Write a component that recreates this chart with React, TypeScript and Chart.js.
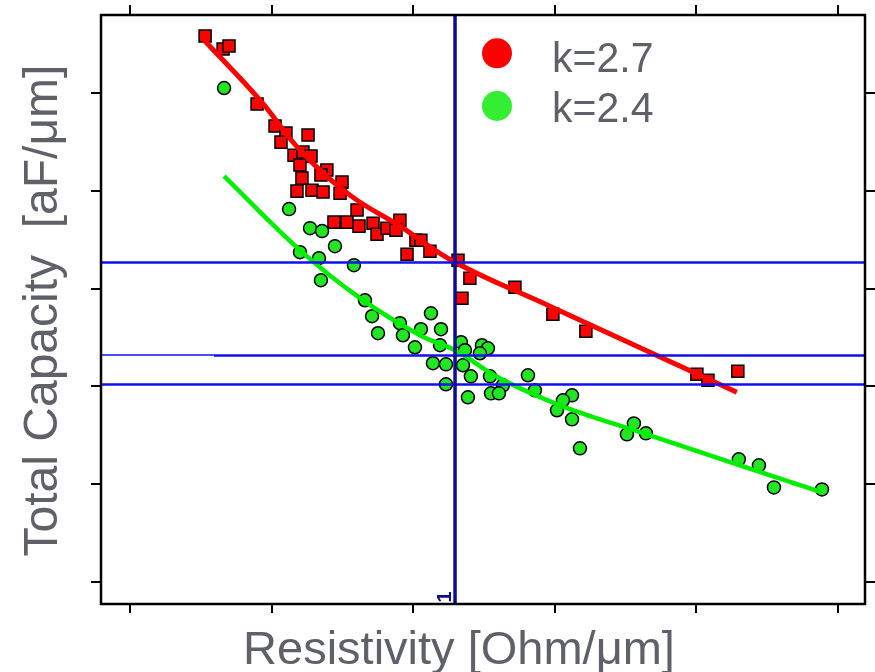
import React, { useEffect, useRef } from "react";
import { Chart, registerables } from "chart.js";

Chart.register(...registerables);

// Tick positions (axes carry no tick labels)
const xTicks = [100, 200, 300, 400, 500, 600];
const yTicks = [100, 200, 300, 400, 500, 600];

// Series k=2.7 (red squares)
const redX = [153.0, 165.7, 169.9, 189.7, 202.4, 210.1, 206.6, 225.7, 215.8, 222.1, 227.8, 220.0, 239.0, 234.8, 221.4, 249.7, 217.9, 228.5, 236.3, 248.3, 260.3, 244.0, 253.2, 261.7, 271.6, 274.4, 281.4, 290.6, 287.8, 301.9, 305.4, 295.6, 311.8, 331.6, 340.0, 334.4, 371.8, 398.6, 421.9, 500.3, 508.1, 529.2];
const redY = [658.3, 645.0, 648.1, 588.7, 566.2, 559.0, 549.8, 557.0, 536.5, 539.6, 535.5, 526.3, 521.2, 516.1, 513.0, 508.9, 499.7, 500.7, 498.7, 497.6, 480.3, 468.0, 468.0, 463.9, 466.9, 455.7, 461.8, 470.0, 459.8, 449.5, 449.5, 435.2, 438.3, 429.1, 410.7, 390.2, 401.4, 373.8, 356.4, 312.4, 306.3, 315.5];

// Series k=2.4 (green circles)
const greenX = [166.4, 212.3, 227.1, 235.6, 220.0, 244.7, 233.4, 258.1, 234.8, 265.9, 270.9, 275.1, 312.5, 290.6, 305.4, 319.6, 292.7, 301.2, 318.9, 333.7, 336.5, 348.5, 352.7, 347.1, 313.9, 323.1, 335.1, 340.7, 354.2, 323.1, 363.3, 381.0, 385.9, 338.6, 354.9, 360.5, 401.5, 412.1, 405.7, 412.1, 417.7, 450.9, 455.8, 464.3, 529.9, 544.1, 554.7, 588.6];
const greenY = [605.1, 481.3, 461.8, 458.8, 437.3, 443.4, 431.1, 424.0, 408.6, 388.1, 371.8, 354.4, 374.8, 364.6, 358.5, 358.5, 352.3, 340.0, 342.1, 345.2, 337.0, 342.1, 339.0, 333.9, 323.7, 322.6, 321.6, 310.3, 310.3, 302.2, 301.1, 311.4, 296.0, 288.9, 292.9, 292.9, 275.6, 290.9, 285.8, 266.3, 236.7, 251.0, 262.2, 252.0, 225.4, 219.3, 196.7, 194.7];

// Fitted trend curves
const redFitX = [152.2, 191.8, 220.0, 255.3, 290.6, 329.5, 396.5, 467.1, 528.5];
const redFitY = [654.2, 592.8, 541.7, 495.6, 463.9, 427.0, 382.0, 334.9, 294.0];
const greenFitX = [166.4, 220.0, 262.4, 304.7, 329.5, 361.2, 403.6, 467.1, 530.7, 588.6];
const greenFitY = [515.0, 439.3, 390.2, 352.3, 337.0, 308.3, 280.7, 249.9, 219.3, 191.6];

// Reference lines
const hRefs = [427.0, 331.8, 302.2];
const vRef = 329.5;

const seriesLabels = ["k=2.7", "k=2.4"];
const xTitle = "Resistivity [Ohm/\u03bcm]";
const yTitle = "Total Capacity  [aF/\u03bcm]";

const toPts = (xs: number[], ys: number[]) => xs.map((x, i) => ({ x, y: ys[i] }));

const FONT = "'Liberation Sans', Arial, sans-serif";
const GRAY = "#5f6168";

const decorPlugin = {
  id: "decor",
  afterDatasetsDraw(chart: any) {
    const { ctx, chartArea: a, scales } = chart;
    const xs = scales.x, ys = scales.y;
    ctx.save();
    ctx.strokeStyle = "#1010f0";
    hRefs.forEach((v, i) => {
      const py = Math.round(ys.getPixelForValue(v)) + 0.5;
      if (i === 1) {
        ctx.lineWidth = 1.5;
        ctx.beginPath();
        ctx.moveTo(a.left, py - 0.5);
        ctx.lineTo(a.left + 113, py - 0.5);
        ctx.stroke();
        ctx.lineWidth = 2.5;
        ctx.beginPath();
        ctx.moveTo(a.left + 113, py);
        ctx.lineTo(a.right, py);
        ctx.stroke();
      } else {
        ctx.lineWidth = 2.5;
        ctx.beginPath();
        ctx.moveTo(a.left, py);
        ctx.lineTo(a.right, py);
        ctx.stroke();
      }
    });
    const px = xs.getPixelForValue(vRef);
    ctx.strokeStyle = "#0b0b95";
    ctx.lineWidth = 3.5;
    ctx.beginPath();
    ctx.moveTo(px, a.top);
    ctx.lineTo(px, a.bottom);
    ctx.stroke();
    // small rotated "1" near the bottom of the vertical line
    ctx.fillStyle = "#0b0b95";
    ctx.font = "bold 20px " + FONT;
    ctx.translate(px - 10, a.bottom - 7);
    ctx.rotate(-Math.PI / 2);
    ctx.textAlign = "center";
    ctx.textBaseline = "middle";
    ctx.fillText("1", 0, 0);
    ctx.restore();
  },
  afterDraw(chart: any) {
    const { ctx, chartArea: a, scales } = chart;
    const xs = scales.x, ys = scales.y;
    ctx.save();
    // frame
    ctx.strokeStyle = "#000";
    ctx.lineWidth = 2.5;
    ctx.strokeRect(a.left, a.top, a.right - a.left, a.bottom - a.top);
    ctx.lineWidth = 2;
    ctx.beginPath();
    xTicks.forEach((v) => {
      const p = Math.round(xs.getPixelForValue(v));
      ctx.moveTo(p, a.top);
      ctx.lineTo(p, a.top - 10);
      ctx.moveTo(p, a.bottom);
      ctx.lineTo(p, a.bottom + 9);
    });
    yTicks.forEach((v) => {
      const p = Math.round(ys.getPixelForValue(v));
      ctx.moveTo(a.left, p);
      ctx.lineTo(a.left - 10, p);
      ctx.moveTo(a.right, p);
      ctx.lineTo(a.right + 10, p);
    });
    ctx.stroke();

    // axis titles
    ctx.fillStyle = GRAY;
    ctx.textAlign = "center";
    ctx.textBaseline = "alphabetic";
    ctx.save();
    ctx.font = "47px " + FONT;
    ctx.translate(459, 663.5);
    ctx.fillText(xTitle, 0, 0);
    ctx.restore();
    ctx.save();
    ctx.font = "48px " + FONT;
    ctx.translate(56.5, 310.5);
    ctx.rotate(-Math.PI / 2);
    ctx.fillText(yTitle, 0, 0);
    ctx.restore();

    // legend
    const colors = ["#ff0000", "#33ee33"];
    const ly = [53.3, 106];
    const lb = [71.7, 122];
    ctx.font = "41px " + FONT;
    ctx.textAlign = "left";
    seriesLabels.forEach((lab, i) => {
      ctx.fillStyle = colors[i];
      ctx.beginPath();
      ctx.arc(497, ly[i], 15, 0, Math.PI * 2);
      ctx.fill();
      ctx.fillStyle = GRAY;
      ctx.save();
      ctx.translate(552, lb[i]);
      ctx.scale(1, 1.05);
      ctx.fillText(lab, 0, 0);
      ctx.restore();
    });
    ctx.restore();
  },
};

export default function App() {
  const ref = useRef<HTMLCanvasElement>(null);
  useEffect(() => {
    document.body.style.margin = "0";
    const chart = new Chart(ref.current as HTMLCanvasElement, {
      type: "scatter",
      data: {
        datasets: [
          {
            type: "line",
            label: seriesLabels[0] + " fit",
            data: toPts(redFitX, redFitY),
            borderColor: "#ff0000",
            borderWidth: 5,
            pointRadius: 0,
            tension: 0.4,
            fill: false,
          },
          {
            type: "line",
            label: seriesLabels[1] + " fit",
            data: toPts(greenFitX, greenFitY),
            borderColor: "#00ee00",
            borderWidth: 4.5,
            pointRadius: 0,
            tension: 0.4,
            fill: false,
          },
          {
            label: seriesLabels[0],
            data: toPts(redX, redY),
            pointStyle: "rect",
            pointRadius: 8.5,
            backgroundColor: "#ff0000",
            borderColor: "#000000",
            borderWidth: 1.5,
          },
          {
            label: seriesLabels[1],
            data: toPts(greenX, greenY),
            pointStyle: "circle",
            pointRadius: 6.5,
            backgroundColor: "#22e622",
            borderColor: "#000000",
            borderWidth: 1.5,
          },
        ],
      },
      options: {
        responsive: false,
        animation: false,
        devicePixelRatio: 1,
        layout: { padding: { left: 101, top: 15, right: 10, bottom: 68 } },
        plugins: { legend: { display: false }, tooltip: { enabled: false } },
        scales: {
          x: { type: "linear", min: 79.5, max: 619, display: false },
          y: { type: "linear", min: 77.5, max: 679.8, display: false },
        },
      },
      plugins: [decorPlugin],
    });
    return () => chart.destroy();
  }, []);
  return (
    <div style={{ position: "fixed", left: 0, top: 0, width: 875, height: 672, background: "#fff" }}>
      <canvas ref={ref} width={875} height={672} style={{ width: 875, height: 672 }} />
    </div>
  );
}
